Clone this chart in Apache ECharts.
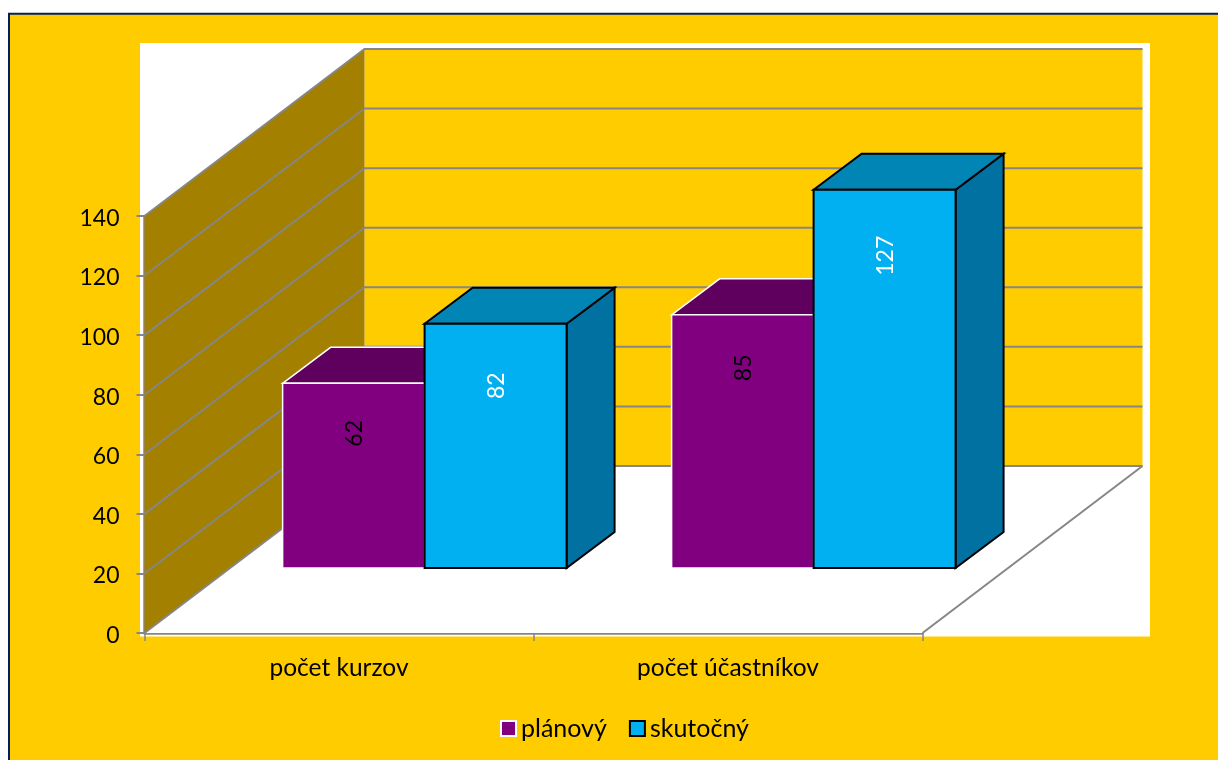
<!DOCTYPE html>
<html>
<head>
<meta charset="utf-8">
<style>
  html, body { margin: 0; padding: 0; background: #fff; }
  #chart { width: 1218px; height: 760px; }
</style>
<script src="https://cdn.jsdelivr.net/npm/echarts@6/dist/echarts.min.js"></script>
</head>
<body>
<div id="chart"></div>
<script>
// data
const categories = ['počet kurzov', 'počet účastníkov'];
const plannedValues = [62, 85];
const actualValues = [82, 127];
const yTicks = [0, 20, 40, 60, 80, 100, 120, 140];

// fake 3d offsets, px
const WALL_DX = 220, WALL_DY = -167;   // front of the box to back wall
const BASE_DX = 85.6, BASE_DY = -65;   // front of the box to front of the bars
const DEPTH_DX = 48, DEPTH_DY = -36;   // depth of one bar
const BAR_RATIO = 0.365;               // bar width / category band
// data labels sit this far under the top of the bar
const plannedLabelDrop = [50, 53];
const actualLabelDrop = [62, 66];

const GRID = '#868686';

function poly(points, fill, stroke, lineWidth) {
  return {
    type: 'polygon',
    shape: { points: points },
    style: { fill: fill, stroke: stroke || null, lineWidth: lineWidth || 0 }
  };
}

function renderBackdrop(params, api) {
  const cs = params.coordSys;
  const y = api.coord([0, api.value(1)])[1];
  const left = cs.x, right = cs.x + cs.width;
  const bottom = cs.y + cs.height, top = cs.y;
  const children = [];
  if (params.dataIndex === 0) {
    // back wall, side wall, floor
    children.push(poly([[left + WALL_DX, top + WALL_DY], [right + WALL_DX, top + WALL_DY],
      [right + WALL_DX, bottom + WALL_DY], [left + WALL_DX, bottom + WALL_DY]], '#FFCC00'));
    children.push(poly([[left, top], [left + WALL_DX, top + WALL_DY],
      [left + WALL_DX, bottom + WALL_DY], [left, bottom]], '#A38000'));
    children.push(poly([[left, bottom], [right, bottom],
      [right + WALL_DX, bottom + WALL_DY], [left + WALL_DX, bottom + WALL_DY]], '#FFFFFF'));
    children.push({
      type: 'line',
      shape: { x1: right, y1: bottom, x2: right + WALL_DX, y2: bottom + WALL_DY },
      style: { stroke: GRID, lineWidth: 2 }
    });
  }
  children.push({
    type: 'polyline',
    shape: { points: [[left, y], [left + WALL_DX, y + WALL_DY], [right + WALL_DX, y + WALL_DY]] },
    style: { stroke: GRID, lineWidth: 2, fill: null }
  });
  return { type: 'group', children: children };
}

function barRenderer(seriesIndex, front, topFace, sideFace, stroke, strokeWidth, labelColor, labelDrop) {
  return function (params, api) {
    const pt = api.coord([api.value(0), api.value(1)]);
    const zero = api.coord([api.value(0), 0]);
    const w = api.size([1, 0])[0] * BAR_RATIO;
    const x0 = pt[0] + BASE_DX + (seriesIndex === 0 ? -w : 0);
    const x1 = x0 + w;
    const yTop = pt[1] + BASE_DY;
    const yBot = zero[1] + BASE_DY;
    return {
      type: 'group',
      children: [
        poly([[x1, yTop], [x1 + DEPTH_DX, yTop + DEPTH_DY], [x1 + DEPTH_DX, yBot + DEPTH_DY], [x1, yBot]],
          sideFace, stroke, strokeWidth),
        poly([[x0, yTop], [x0 + DEPTH_DX, yTop + DEPTH_DY], [x1 + DEPTH_DX, yTop + DEPTH_DY], [x1, yTop]],
          topFace, stroke, strokeWidth),
        poly([[x0, yTop], [x1, yTop], [x1, yBot], [x0, yBot]], front, stroke, strokeWidth),
        {
          type: 'text',
          x: (x0 + x1) / 2 + 1,
          y: yTop + labelDrop[params.dataIndex],
          rotation: Math.PI / 2,
          style: {
            text: String(api.value(1)),
            fill: labelColor,
            font: '23px Lato',
            align: 'center',
            verticalAlign: 'middle'
          }
        }
      ]
    };
  };
}

const chart = echarts.init(document.getElementById('chart'));
chart.setOption({
  animation: false,
  backgroundColor: '#FFFFFF',
  textStyle: { fontFamily: 'Lato', color: '#000' },
  graphic: [
    {
      type: 'rect', z: -10, silent: true,
      shape: { x: 9, y: 13.7, width: 1300, height: 800 },
      style: { fill: '#FFCC00', stroke: '#002060', lineWidth: 2 }
    },
    {
      type: 'rect', z: -9, silent: true,
      shape: { x: 140, y: 43, width: 1010, height: 593.5 },
      style: { fill: '#FFFFFF' }
    }
  ],
  grid: { left: 144.5, top: 216, width: 778, height: 417 },
  xAxis: {
    type: 'category',
    data: categories,
    axisLine: { show: true, lineStyle: { color: GRID, width: 2.5 } },
    axisTick: { show: true, alignWithLabel: false, length: 8, lineStyle: { color: GRID, width: 1.5 } },
    axisLabel: { fontSize: 24.5, color: '#000', fontFamily: 'Lato', margin: 23 }
  },
  yAxis: {
    type: 'value',
    min: 0,
    max: 140,
    interval: 20,
    axisLine: { show: true, lineStyle: { color: GRID, width: 2.5 } },
    axisTick: { show: true, length: 8, lineStyle: { color: GRID, width: 2 } },
    axisLabel: {
      margin: 25,
      formatter: '{t|{value}}',
      // rich padding pushes the digits a little under the tick
      rich: { t: { fontSize: 23, color: '#000', fontFamily: 'Lato', padding: [5, 0, 0, 0] } }
    },
    splitLine: { show: false }
  },
  legend: {
    left: 500,
    top: 716,
    padding: 0,
    itemWidth: 15,
    itemHeight: 15,
    itemGap: 22,
    icon: 'rect',
    selectedMode: false,
    textStyle: { fontSize: 25, color: '#000', fontFamily: 'Lato' },
    data: [
      { name: 'plánový', itemStyle: { color: '#800080', borderColor: '#FFFFFF', borderWidth: 2 } },
      { name: 'skutočný', itemStyle: { color: '#00B0F0', borderColor: '#000000', borderWidth: 2 } }
    ]
  },
  series: [
    {
      type: 'custom',
      silent: true,
      clip: false,
      z: 1,
      renderItem: renderBackdrop,
      encode: { x: 0, y: 1 },
      data: yTicks.map(function (v) { return [0, v]; })
    },
    {
      name: 'plánový',
      type: 'custom',
      clip: false,
      z: 2,
      itemStyle: { color: '#800080' },
      renderItem: barRenderer(0, '#800080', '#5F005F', '#5F005F', '#FFFFFF', 1.5, '#000000', plannedLabelDrop),
      encode: { x: 0, y: 1 },
      data: plannedValues.map(function (v, i) { return [i, v]; })
    },
    {
      name: 'skutočný',
      type: 'custom',
      clip: false,
      z: 3,
      itemStyle: { color: '#00B0F0' },
      renderItem: barRenderer(1, '#00B0F0', '#0085B4', '#0071A0', '#000000', 2, '#FFFFFF', actualLabelDrop),
      encode: { x: 0, y: 1 },
      data: actualValues.map(function (v, i) { return [i, v]; })
    }
  ]
});
</script>
</body>
</html>
